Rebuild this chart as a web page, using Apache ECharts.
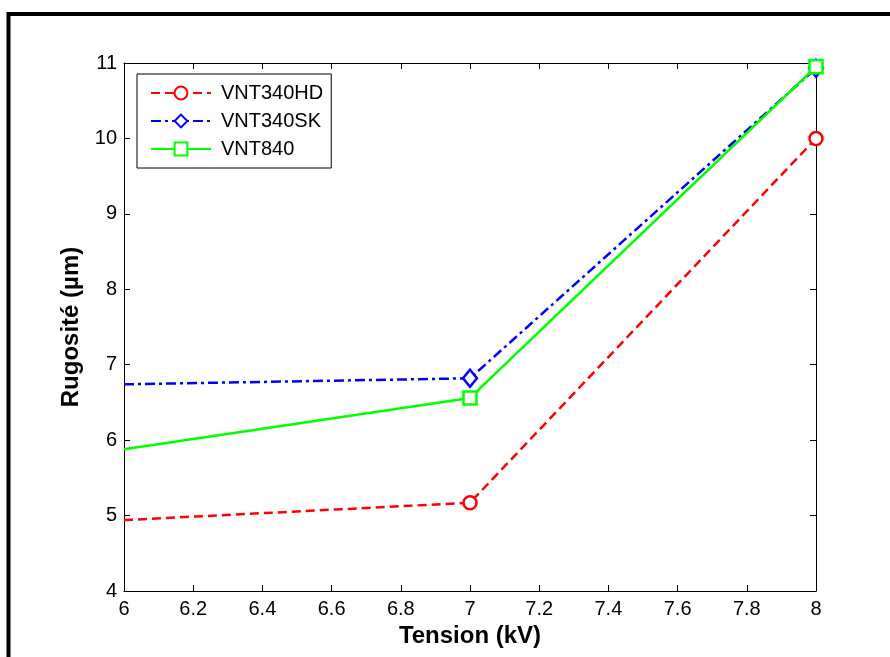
<!DOCTYPE html>
<html>
<head>
<meta charset="utf-8">
<script src="https://cdn.jsdelivr.net/npm/echarts@6/dist/echarts.min.js"></script>
<style>
html,body{margin:0;padding:0;background:#fff;}
#chart{width:890px;height:657px;}
</style>
</head>
<body>
<div id="chart"></div>
<script>
var tension = [6, 7, 8];
var vnt340hd = [4.94, 5.17, 10.0];
var vnt340sk = [6.74, 6.82, 10.93];
var vnt840 = [5.88, 6.56, 10.95];
var seriesNames = ['VNT340HD', 'VNT340SK', 'VNT840'];

// the first point sits on the plot edge; its marker is not drawn in the original
function pairs(xs, ys) {
  return xs.map(function (x, i) {
    return i === 0 ? { value: [x, ys[i]], symbol: 'none' } : { value: [x, ys[i]] };
  });
}

var FONT = 'Liberation Sans, Arial, sans-serif';
var chart = echarts.init(document.getElementById('chart'));

var xBase = {
  type: 'value', min: 6, max: 8, interval: 0.2,
  axisLine: { show: true, lineStyle: { color: '#000', width: 1 } },
  axisTick: { show: true, inside: true, length: 6, lineStyle: { color: '#000' } },
  splitLine: { show: false }
};
var yBase = {
  type: 'value', min: 4, max: 11, interval: 1,
  axisLine: { show: true, lineStyle: { color: '#000', width: 1 } },
  axisTick: { show: true, inside: true, length: 6, lineStyle: { color: '#000' } },
  splitLine: { show: false }
};

chart.setOption({
  animation: false,
  backgroundColor: '#fff',
  graphic: [{
    type: 'rect', shape: { x: 8.5, y: 14, width: 900, height: 700 },
    style: { fill: 'none', stroke: '#000', lineWidth: 4 }, silent: true
  }],
  grid: { left: 124, right: 74, top: 63, bottom: 66 },
  legend: {
    left: 137, top: 74, orient: 'vertical',
    data: seriesNames,
    itemWidth: 60, itemHeight: 16, itemGap: 8,
    padding: [9, 8, 9, 13],
    borderColor: '#000', borderWidth: 1, backgroundColor: '#fff',
    textStyle: { fontFamily: FONT, fontSize: 20, color: '#000', padding: [0, 0, 0, 5] }
  },
  xAxis: [
    Object.assign({}, xBase, {
      position: 'bottom',
      name: 'Tension (kV)', nameLocation: 'middle', nameGap: 33,
      nameTextStyle: { fontFamily: FONT, fontSize: 24, fontWeight: 'bold', color: '#000' },
      axisLabel: { margin: 8, fontFamily: FONT, fontSize: 20, color: '#000' }
    }),
    Object.assign({}, xBase, { position: 'top', axisLabel: { show: false } })
  ],
  yAxis: [
    Object.assign({}, yBase, {
      position: 'left',
      name: 'Rugosité (µm)', nameLocation: 'middle', nameGap: 41,
      nameTextStyle: { fontFamily: FONT, fontSize: 24, fontWeight: 'bold', color: '#000' },
      axisLabel: { margin: 7, fontFamily: FONT, fontSize: 20, color: '#000' }
    }),
    Object.assign({}, yBase, { position: 'right', axisLabel: { show: false } })
  ],
  series: [
    {
      name: seriesNames[0], type: 'line', data: pairs(tension, vnt340hd),
      symbol: 'circle', symbolSize: 13,
      lineStyle: { color: '#ff0000', width: 2.5, type: [9, 5] },
      itemStyle: { color: '#fff', borderColor: '#ff0000', borderWidth: 2.5 }
    },
    {
      name: seriesNames[1], type: 'line', data: pairs(tension, vnt340sk),
      symbol: 'diamond', symbolSize: [14, 17],
      lineStyle: { color: '#0000ff', width: 2.5, type: [10, 4, 3, 4] },
      itemStyle: { color: '#fff', borderColor: '#0000ff', borderWidth: 2.5 }
    },
    {
      name: seriesNames[2], type: 'line', data: pairs(tension, vnt840),
      symbol: 'rect', symbolSize: 13,
      lineStyle: { color: '#00ff00', width: 2.5, type: 'solid' },
      itemStyle: { color: '#fff', borderColor: '#00ff00', borderWidth: 2.5 }
    }
  ]
});
</script>
</body>
</html>
